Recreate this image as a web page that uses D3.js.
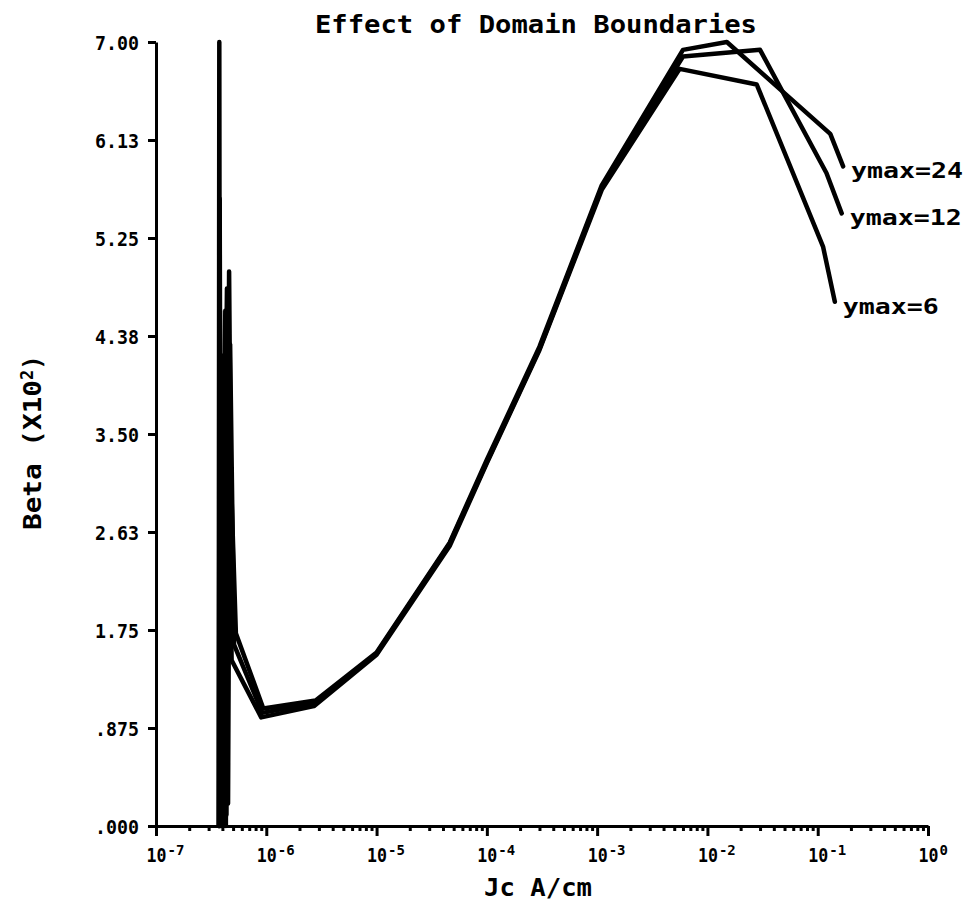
<!DOCTYPE html>
<html>
<head>
<meta charset="utf-8">
<script src="https://cdn.jsdelivr.net/npm/d3@7"></script>
<style>
  html, body { margin: 0; padding: 0; background: #fff; }
  svg { display: block; }
  text { font-family: "DejaVu Sans Mono", "Liberation Mono", monospace; fill: #000; }
</style>
</head>
<body>
<svg id="chart" width="969" height="910"></svg>
<script>
// ---------------- data ----------------
const chartTitle = "Effect of Domain Boundaries";
const xAxisTitle = "Jc A/cm";
const yAxisTitle = "Beta (X10";
const yAxisTitleSup = "2";
const xTickExponents = [-7, -6, -5, -4, -3, -2, -1, 0];
const xTickSupLabels = ["-7", "-6", "-5", "-4", "-3", "-2", "-1", "0"];
const yTickValues = [7, 6.125, 5.25, 4.375, 3.5, 2.625, 1.75, 0.875, 0];
const yTickLabels = ["7.00", "6.13", "5.25", "4.38", "3.50", "2.63", "1.75", ".875", ".000"];

const seriesNames = ["ymax=24", "ymax=12", "ymax=6"];

const jcYmax24 = [3.70e-7, 3.75e-7, 3.82e-7, 4.25e-7, 4.35e-7, 4.6e-7, 4.75e-7, 5.3e-7, 9.4e-7, 2.8e-6, 1.0e-5, 4.6e-5, 1.0e-4, 3.0e-4, 1.1e-3, 6.0e-3, 1.5e-2, 0.13, 0.17];
const betaYmax24 = [0, 7.0, 0, 4.6, 0.1, 4.95, 3.2, 1.72, 1.05, 1.12, 1.55, 2.53, 3.27, 4.28, 5.72, 6.93, 7.0, 6.18, 5.89];

const jcYmax12 = [3.72e-7, 3.78e-7, 3.90e-7, 4.4e-7, 4.5e-7, 4.7e-7, 5.1e-7, 9.2e-7, 2.8e-6, 1.0e-5, 4.6e-5, 1.0e-4, 3.0e-4, 1.1e-3, 6.0e-3, 3.0e-2, 0.12, 0.165];
const betaYmax12 = [0, 5.6, 0, 4.8, 0.2, 4.3, 1.62, 1.01, 1.10, 1.54, 2.52, 3.25, 4.26, 5.70, 6.87, 6.93, 5.83, 5.47];

const jcYmax6 = [3.74e-7, 3.80e-7, 3.98e-7, 4.1e-7, 4.3e-7, 4.45e-7, 4.85e-7, 9.0e-7, 2.7e-6, 1.0e-5, 4.6e-5, 1.0e-4, 3.0e-4, 1.1e-3, 5.6e-3, 2.8e-2, 0.112, 0.143];
const betaYmax6 = [0, 4.6, 0, 4.2, 0, 4.4, 1.48, 0.97, 1.07, 1.53, 2.50, 3.24, 4.25, 5.68, 6.76, 6.62, 5.17, 4.68];

// ---------------- chart ----------------
const svg = d3.select("#chart");
const x = d3.scaleLog().domain([1e-7, 1]).range([156, 928]);
const y = d3.scaleLinear().domain([0, 7]).range([826, 42]);

const series = [
  { name: seriesNames[0], jc: jcYmax24, beta: betaYmax24 },
  { name: seriesNames[1], jc: jcYmax12, beta: betaYmax12 },
  { name: seriesNames[2], jc: jcYmax6, beta: betaYmax6 }
];

// title
svg.append("text")
  .attr("x", 315).attr("y", 33)
  .attr("font-size", 25).attr("font-weight", "bold")
  .attr("textLength", 442).attr("lengthAdjust", "spacingAndGlyphs")
  .text(chartTitle);

// minor x ticks
const minorVals = [];
xTickExponents.slice(0, -1).forEach(e => {
  for (let k = 2; k <= 9; k++) minorVals.push(k * Math.pow(10, e));
});
const xMinor = svg.append("g").attr("transform", `translate(0,${y(0)})`)
  .call(d3.axisBottom(x).tickValues(minorVals).tickSize(5).tickSizeOuter(0).tickFormat(""));
xMinor.select(".domain").remove();
xMinor.selectAll("line").attr("stroke", "#000").attr("stroke-width", 3);

// major x ticks + domain
const xMajor = svg.append("g").attr("transform", `translate(0,${y(0)})`)
  .call(d3.axisBottom(x).tickValues(xTickExponents.map(e => Math.pow(10, e))).tickSize(10).tickSizeOuter(0).tickFormat(""));
xMajor.select(".domain").attr("stroke", "#000").attr("stroke-width", 3);
xMajor.selectAll(".tick line").attr("stroke", "#000").attr("stroke-width", 3);
xMajor.selectAll(".tick").each(function(d, i) {
  const g = d3.select(this);
  g.append("text")
    .attr("x", 0).attr("y", 36)
    .attr("font-size", 19).attr("font-weight", "bold")
    .attr("text-anchor", "middle")
    .attr("textLength", 20).attr("lengthAdjust", "spacingAndGlyphs")
    .text("10");
  g.append("text")
    .attr("x", 11).attr("y", 29)
    .attr("font-size", 14).attr("font-weight", "bold")
    .attr("text-anchor", "start")
    .text(xTickSupLabels[i]);
});

// y axis
const yAx = svg.append("g").attr("transform", `translate(${x(1e-7)},0)`)
  .call(d3.axisLeft(y).tickValues(yTickValues).tickSize(8).tickSizeOuter(0)
    .tickFormat((d, i) => yTickLabels[i]));
yAx.select(".domain").attr("stroke", "#000").attr("stroke-width", 3);
yAx.selectAll(".tick line").attr("stroke", "#000").attr("stroke-width", 3);
yAx.selectAll(".tick text")
  .attr("x", -17).attr("dy", "0.36em")
  .attr("font-size", 20).attr("font-weight", "bold")
  .attr("font-family", "DejaVu Sans Mono, monospace")
  .attr("textLength", 44).attr("lengthAdjust", "spacingAndGlyphs");

// y axis title (rotated)
const yt = svg.append("text")
  .attr("transform", "translate(41,530) rotate(-90)")
  .attr("font-size", 24).attr("font-weight", "bold");
yt.append("tspan").text(yAxisTitle).attr("textLength", 150).attr("lengthAdjust", "spacingAndGlyphs");
yt.append("tspan").attr("dy", -8).attr("font-size", 17).text(yAxisTitleSup);
yt.append("tspan").attr("dy", 8).text(")");

// x axis title
svg.append("text")
  .attr("x", 484).attr("y", 896)
  .attr("font-size", 24).attr("font-weight", "bold")
  .attr("textLength", 108).attr("lengthAdjust", "spacingAndGlyphs")
  .text(xAxisTitle);

// lines
const line = d3.line().x(d => x(d[0])).y(d => y(d[1]));
series.forEach(s => {
  const pts = s.jc.map((v, i) => [v, s.beta[i]]);
  svg.append("path")
    .datum(pts)
    .attr("d", line)
    .attr("fill", "none")
    .attr("stroke", "#000")
    .attr("stroke-width", 4.5)
    .attr("stroke-linejoin", "round")
    .attr("stroke-linecap", "round");
  const last = pts[pts.length - 1];
  svg.append("text")
    .attr("x", x(last[0]) + 8)
    .attr("y", y(last[1]) + 12)
    .attr("font-size", 22).attr("font-weight", "bold")
    .attr("textLength", s.name.length * 16).attr("lengthAdjust", "spacingAndGlyphs")
    .text(s.name);
});
</script>
</body>
</html>
